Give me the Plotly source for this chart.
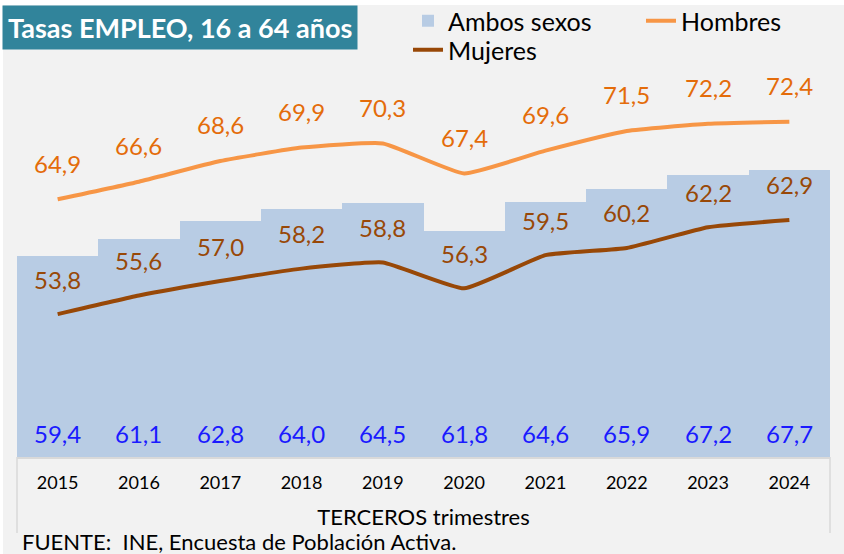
import plotly.graph_objects as go

years = ["2015", "2016", "2017", "2018", "2019", "2020", "2021", "2022", "2023", "2024"]
ambos = [59.4, 61.1, 62.8, 64.0, 64.5, 61.8, 64.6, 65.9, 67.2, 67.7]
hombres = [64.9, 66.6, 68.6, 69.9, 70.3, 67.4, 69.6, 71.5, 72.2, 72.4]
mujeres = [53.8, 55.6, 57.0, 58.2, 58.8, 56.3, 59.5, 60.2, 62.2, 62.9]

W, H = 844, 554
ML, MR, MT, MB = 17, 14, 43, 97
PW, PH = W - ML - MR, H - MT - MB
FONT = "Lato"


def px_x(x):
    return (x - ML) / PW


def px_y(y):
    return 1 - (y - MT) / PH


def fmt(v):
    return f"{v:.1f}".replace(".", ",")


fig = go.Figure()
fig.add_trace(go.Bar(x=years, y=ambos, name="Ambos sexos", marker=dict(color="#b8cce4", line=dict(width=0)),
                     hoverinfo="skip", legend="legend"))
fig.add_trace(go.Scatter(x=years, y=hombres, name="Hombres", mode="lines", legend="legend",
                         line=dict(color="#f79646", width=4, shape="spline", smoothing=0.4)))
fig.add_trace(go.Scatter(x=years, y=mujeres, name="Mujeres", mode="lines", legend="legend2",
                         line=dict(color="#984807", width=4, shape="spline", smoothing=0.4)))

ann = []
for i, v in enumerate(hombres):
    ann.append(dict(x=i, y=v, xref="x", yref="y", text=fmt(v), showarrow=False, yshift=36,
                    font=dict(family=FONT, size=24, color="#e46c0a")))
for i, v in enumerate(mujeres):
    ann.append(dict(x=i, y=v, xref="x", yref="y", text=fmt(v), showarrow=False, yshift=35,
                    font=dict(family=FONT, size=24, color="#984807")))
for i, v in enumerate(ambos):
    ann.append(dict(x=i, y=px_y(433), xref="x", yref="paper", text=fmt(v), showarrow=False,
                    yanchor="middle", font=dict(family=FONT, size=24, color="#1a1aff")))

ann.append(dict(x=px_x(2), y=px_y(5), xref="paper", yref="paper", xanchor="left", yanchor="top",
                text="<b>Tasas EMPLEO, 16 a 64 años</b>", showarrow=False, bgcolor="#31849b",
                borderpad=5, font=dict(family=FONT, size=27, color="white")))
ann.append(dict(x=px_x(20), y=px_y(541), xref="paper", yref="paper", xanchor="left", yanchor="middle",
                text="FUENTE:  INE, Encuesta de Población Activa.", showarrow=False,
                font=dict(family=FONT, size=22, color="black")))

shapes = [
    dict(type="rect", xref="paper", yref="paper", x0=px_x(-2), x1=px_x(3), y0=px_y(560), y1=px_y(-5),
         fillcolor="white", line=dict(width=0), layer="below"),
    dict(type="rect", xref="paper", yref="paper", x0=px_x(-2), x1=px_x(850), y0=px_y(5), y1=px_y(-5),
         fillcolor="white", line=dict(width=0), layer="below"),
    dict(type="line", xref="paper", yref="paper", x0=0, x1=0, y0=0, y1=px_y(533),
         line=dict(color="#d9d9d9", width=1.5)),
    dict(type="line", xref="paper", yref="paper", x0=1, x1=1, y0=0, y1=px_y(533),
         line=dict(color="#d9d9d9", width=1.5)),
]

leg_common = dict(orientation="h", xanchor="left", yanchor="top", bgcolor="rgba(0,0,0,0)",
                  font=dict(family=FONT, size=25, color="black"), traceorder="normal")

fig.update_layout(
    width=W, height=H,
    margin=dict(l=ML, r=MR, t=MT, b=MB, autoexpand=False),
    paper_bgcolor="#f2f2f2", plot_bgcolor="#f2f2f2",
    bargap=0,
    font=dict(family=FONT, color="black"),
    showlegend=True,
    legend=dict(x=px_x(408), y=px_y(-2), entrywidth=188, entrywidthmode="pixels", **leg_common),
    legend2=dict(x=px_x(408), y=px_y(27), **leg_common),
    xaxis=dict(type="category", range=[-0.5, 9.5], automargin=False, showgrid=False, showline=True,
               linecolor="#d9d9d9", linewidth=2, tickfont=dict(family=FONT, size=18, color="black"),
               ticklabelstandoff=8,
               title=dict(text="TERCEROS trimestres", standoff=18,
                          font=dict(family=FONT, size=22, color="black"))),
    yaxis=dict(range=[40, 80], visible=False, showgrid=False, automargin=False),
    annotations=ann,
    shapes=shapes,
)

fig.write_html("out.html", config={"displayModeBar": False},
               post_script="document.body.style.margin='0';")
